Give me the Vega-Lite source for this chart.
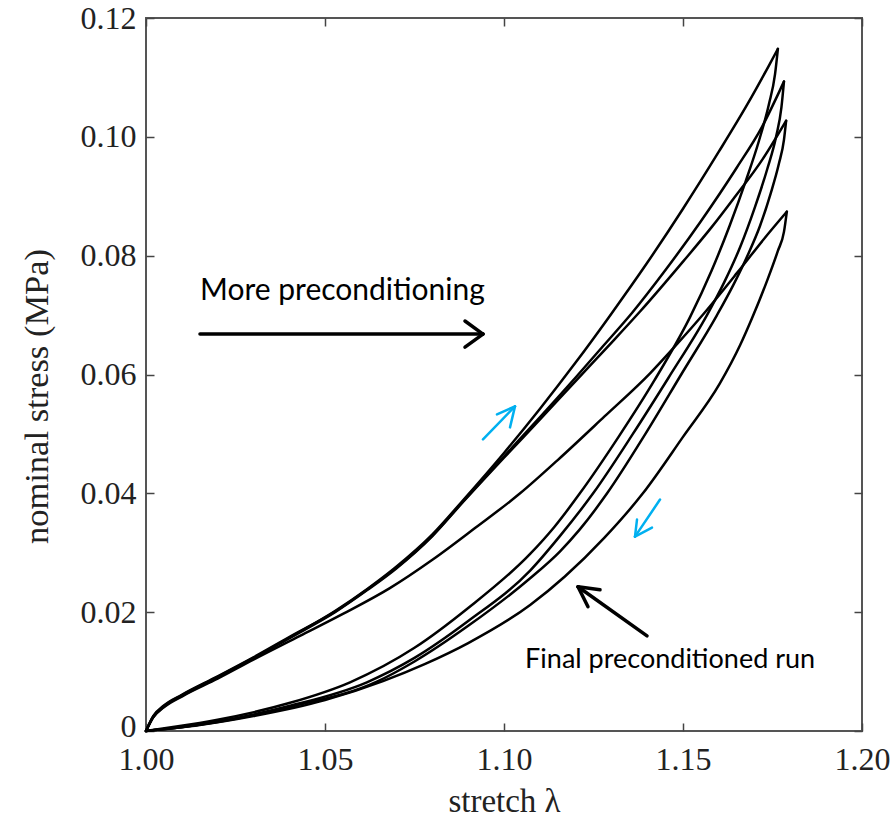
{
  "$schema": "https://vega.github.io/schema/vega-lite/v6.json",
  "width": 716,
  "height": 713,
  "autosize": {"type": "none"},
  "padding": {"left": 146, "top": 18, "right": 31, "bottom": 92},
  "background": "white",
  "config": {
    "view": {"stroke": "#555", "strokeWidth": 2},
    "axis": {
      "domain": false, "grid": false, "tickColor": "#444", "tickSize": -8, "tickWidth": 1.5,
      "labelFont": "Liberation Serif", "labelFontSize": 32, "labelColor": "#222",
      "labelFlush": false, "labelOverlap": false, "labelBound": false,
      "titleFont": "Liberation Serif", "titleFontSize": 33, "titleFontWeight": "normal", "titleColor": "#222"
    }
  },
  "datasets": {
    "curves": [
      {"curve":"A-load","lambda":1.000,"stress":0.0},
      {"curve":"A-load","lambda":1.002,"stress":0.0024},
      {"curve":"A-load","lambda":1.005,"stress":0.0042},
      {"curve":"A-load","lambda":1.010,"stress":0.0060},
      {"curve":"A-load","lambda":1.020,"stress":0.0091},
      {"curve":"A-load","lambda":1.030,"stress":0.0123},
      {"curve":"A-load","lambda":1.040,"stress":0.0157},
      {"curve":"A-load","lambda":1.0528,"stress":0.0202},
      {"curve":"A-load","lambda":1.062,"stress":0.0240},
      {"curve":"A-load","lambda":1.070,"stress":0.0277},
      {"curve":"A-load","lambda":1.080,"stress":0.0331},
      {"curve":"A-load","lambda":1.0885,"stress":0.0388},
      {"curve":"A-load","lambda":1.100,"stress":0.0468},
      {"curve":"A-load","lambda":1.110,"stress":0.0542},
      {"curve":"A-load","lambda":1.120,"stress":0.0620},
      {"curve":"A-load","lambda":1.1296,"stress":0.0699},
      {"curve":"A-load","lambda":1.140,"stress":0.0788},
      {"curve":"A-load","lambda":1.150,"stress":0.0879},
      {"curve":"A-load","lambda":1.160,"stress":0.0975},
      {"curve":"A-load","lambda":1.168,"stress":0.1055},
      {"curve":"A-load","lambda":1.174,"stress":0.1120},
      {"curve":"A-load","lambda":1.1765,"stress":0.1148},

      {"curve":"B-load","lambda":1.000,"stress":0.0},
      {"curve":"B-load","lambda":1.002,"stress":0.0025},
      {"curve":"B-load","lambda":1.005,"stress":0.0043},
      {"curve":"B-load","lambda":1.010,"stress":0.0061},
      {"curve":"B-load","lambda":1.020,"stress":0.0092},
      {"curve":"B-load","lambda":1.030,"stress":0.0124},
      {"curve":"B-load","lambda":1.040,"stress":0.0158},
      {"curve":"B-load","lambda":1.0528,"stress":0.0201},
      {"curve":"B-load","lambda":1.062,"stress":0.0239},
      {"curve":"B-load","lambda":1.070,"stress":0.0275},
      {"curve":"B-load","lambda":1.080,"stress":0.0329},
      {"curve":"B-load","lambda":1.0885,"stress":0.0386},
      {"curve":"B-load","lambda":1.100,"stress":0.0462},
      {"curve":"B-load","lambda":1.110,"stress":0.0528},
      {"curve":"B-load","lambda":1.120,"stress":0.0595},
      {"curve":"B-load","lambda":1.128,"stress":0.0650},
      {"curve":"B-load","lambda":1.1358,"stress":0.0704},
      {"curve":"B-load","lambda":1.145,"stress":0.0775},
      {"curve":"B-load","lambda":1.155,"stress":0.0858},
      {"curve":"B-load","lambda":1.165,"stress":0.0948},
      {"curve":"B-load","lambda":1.172,"stress":0.1016},
      {"curve":"B-load","lambda":1.1782,"stress":0.1093},

      {"curve":"C-load","lambda":1.000,"stress":0.0},
      {"curve":"C-load","lambda":1.002,"stress":0.0023},
      {"curve":"C-load","lambda":1.005,"stress":0.0041},
      {"curve":"C-load","lambda":1.010,"stress":0.0059},
      {"curve":"C-load","lambda":1.020,"stress":0.0090},
      {"curve":"C-load","lambda":1.030,"stress":0.0122},
      {"curve":"C-load","lambda":1.040,"stress":0.0156},
      {"curve":"C-load","lambda":1.0528,"stress":0.0200},
      {"curve":"C-load","lambda":1.062,"stress":0.0238},
      {"curve":"C-load","lambda":1.070,"stress":0.0274},
      {"curve":"C-load","lambda":1.080,"stress":0.0328},
      {"curve":"C-load","lambda":1.0885,"stress":0.0385},
      {"curve":"C-load","lambda":1.100,"stress":0.0460},
      {"curve":"C-load","lambda":1.110,"stress":0.0524},
      {"curve":"C-load","lambda":1.120,"stress":0.0589},
      {"curve":"C-load","lambda":1.129,"stress":0.0647},
      {"curve":"C-load","lambda":1.138,"stress":0.0706},
      {"curve":"C-load","lambda":1.150,"stress":0.0790},
      {"curve":"C-load","lambda":1.158,"stress":0.0848},
      {"curve":"C-load","lambda":1.164,"stress":0.0895},
      {"curve":"C-load","lambda":1.1723,"stress":0.0963},
      {"curve":"C-load","lambda":1.1788,"stress":0.1027},

      {"curve":"D-load","lambda":1.000,"stress":0.0},
      {"curve":"D-load","lambda":1.002,"stress":0.0023},
      {"curve":"D-load","lambda":1.005,"stress":0.0040},
      {"curve":"D-load","lambda":1.010,"stress":0.0058},
      {"curve":"D-load","lambda":1.020,"stress":0.0088},
      {"curve":"D-load","lambda":1.030,"stress":0.0120},
      {"curve":"D-load","lambda":1.043,"stress":0.0160},
      {"curve":"D-load","lambda":1.055,"stress":0.0197},
      {"curve":"D-load","lambda":1.068,"stress":0.0240},
      {"curve":"D-load","lambda":1.0802,"stress":0.0289},
      {"curve":"D-load","lambda":1.092,"stress":0.0342},
      {"curve":"D-load","lambda":1.1045,"stress":0.0400},
      {"curve":"D-load","lambda":1.115,"stress":0.0456},
      {"curve":"D-load","lambda":1.128,"stress":0.0529},
      {"curve":"D-load","lambda":1.1408,"stress":0.0602},
      {"curve":"D-load","lambda":1.148,"stress":0.0649},
      {"curve":"D-load","lambda":1.1556,"stress":0.0701},
      {"curve":"D-load","lambda":1.1651,"stress":0.0771},
      {"curve":"D-load","lambda":1.173,"stress":0.0831},
      {"curve":"D-load","lambda":1.179,"stress":0.0874},

      {"curve":"A-unload","lambda":1.1765,"stress":0.1148},
      {"curve":"A-unload","lambda":1.1757,"stress":0.1105},
      {"curve":"A-unload","lambda":1.1740,"stress":0.1055},
      {"curve":"A-unload","lambda":1.1712,"stress":0.0993},
      {"curve":"A-unload","lambda":1.1675,"stress":0.0925},
      {"curve":"A-unload","lambda":1.1630,"stress":0.0850},
      {"curve":"A-unload","lambda":1.1580,"stress":0.0775},
      {"curve":"A-unload","lambda":1.1520,"stress":0.0697},
      {"curve":"A-unload","lambda":1.1420,"stress":0.0590},
      {"curve":"A-unload","lambda":1.1320,"stress":0.0495},
      {"curve":"A-unload","lambda":1.1212,"stress":0.0400},
      {"curve":"A-unload","lambda":1.1140,"stress":0.0343},
      {"curve":"A-unload","lambda":1.1073,"stress":0.0298},
      {"curve":"A-unload","lambda":1.0900,"stress":0.0207},
      {"curve":"A-unload","lambda":1.0750,"stress":0.0140},
      {"curve":"A-unload","lambda":1.0570,"stress":0.0082},
      {"curve":"A-unload","lambda":1.0400,"stress":0.0047},
      {"curve":"A-unload","lambda":1.0200,"stress":0.0019},
      {"curve":"A-unload","lambda":1.0080,"stress":0.0007},
      {"curve":"A-unload","lambda":1.0000,"stress":0.0},

      {"curve":"B-unload","lambda":1.1782,"stress":0.1093},
      {"curve":"B-unload","lambda":1.1775,"stress":0.1050},
      {"curve":"B-unload","lambda":1.1760,"stress":0.1000},
      {"curve":"B-unload","lambda":1.1735,"stress":0.0945},
      {"curve":"B-unload","lambda":1.1700,"stress":0.0880},
      {"curve":"B-unload","lambda":1.1660,"stress":0.0815},
      {"curve":"B-unload","lambda":1.1615,"stress":0.0755},
      {"curve":"B-unload","lambda":1.1567,"stress":0.0700},
      {"curve":"B-unload","lambda":1.1460,"stress":0.0595},
      {"curve":"B-unload","lambda":1.1360,"stress":0.0500},
      {"curve":"B-unload","lambda":1.1249,"stress":0.0400},
      {"curve":"B-unload","lambda":1.1156,"stress":0.0328},
      {"curve":"B-unload","lambda":1.1073,"stress":0.0270},
      {"curve":"B-unload","lambda":1.0900,"stress":0.0185},
      {"curve":"B-unload","lambda":1.0750,"stress":0.0123},
      {"curve":"B-unload","lambda":1.0617,"stress":0.0082},
      {"curve":"B-unload","lambda":1.0400,"stress":0.0042},
      {"curve":"B-unload","lambda":1.0200,"stress":0.0016},
      {"curve":"B-unload","lambda":1.0080,"stress":0.0005},
      {"curve":"B-unload","lambda":1.0000,"stress":0.0},

      {"curve":"C-unload","lambda":1.1788,"stress":0.1027},
      {"curve":"C-unload","lambda":1.1782,"stress":0.0995},
      {"curve":"C-unload","lambda":1.1768,"stress":0.0955},
      {"curve":"C-unload","lambda":1.1745,"stress":0.0905},
      {"curve":"C-unload","lambda":1.1715,"stress":0.0850},
      {"curve":"C-unload","lambda":1.1680,"stress":0.0800},
      {"curve":"C-unload","lambda":1.1640,"stress":0.0750},
      {"curve":"C-unload","lambda":1.1595,"stress":0.0700},
      {"curve":"C-unload","lambda":1.1495,"stress":0.0600},
      {"curve":"C-unload","lambda":1.1395,"stress":0.0500},
      {"curve":"C-unload","lambda":1.1288,"stress":0.0400},
      {"curve":"C-unload","lambda":1.1210,"stress":0.0338},
      {"curve":"C-unload","lambda":1.1156,"stress":0.0302},
      {"curve":"C-unload","lambda":1.1073,"stress":0.0257},
      {"curve":"C-unload","lambda":1.0900,"stress":0.0177},
      {"curve":"C-unload","lambda":1.0750,"stress":0.0117},
      {"curve":"C-unload","lambda":1.0645,"stress":0.0083},
      {"curve":"C-unload","lambda":1.0400,"stress":0.0040},
      {"curve":"C-unload","lambda":1.0200,"stress":0.0015},
      {"curve":"C-unload","lambda":1.0080,"stress":0.0005},
      {"curve":"C-unload","lambda":1.0000,"stress":0.0},

      {"curve":"D-unload","lambda":1.1790,"stress":0.0874},
      {"curve":"D-unload","lambda":1.1782,"stress":0.0840},
      {"curve":"D-unload","lambda":1.1765,"stress":0.0808},
      {"curve":"D-unload","lambda":1.1735,"stress":0.0758},
      {"curve":"D-unload","lambda":1.1693,"stress":0.0695},
      {"curve":"D-unload","lambda":1.1660,"stress":0.0650},
      {"curve":"D-unload","lambda":1.1603,"stress":0.0585},
      {"curve":"D-unload","lambda":1.1500,"stress":0.0495},
      {"curve":"D-unload","lambda":1.1388,"stress":0.0400},
      {"curve":"D-unload","lambda":1.1280,"stress":0.0325},
      {"curve":"D-unload","lambda":1.1170,"stress":0.0260},
      {"curve":"D-unload","lambda":1.1073,"stress":0.0212},
      {"curve":"D-unload","lambda":1.0900,"stress":0.0148},
      {"curve":"D-unload","lambda":1.0780,"stress":0.0113},
      {"curve":"D-unload","lambda":1.0662,"stress":0.0084},
      {"curve":"D-unload","lambda":1.0500,"stress":0.0052},
      {"curve":"D-unload","lambda":1.0300,"stress":0.0025},
      {"curve":"D-unload","lambda":1.0150,"stress":0.0010},
      {"curve":"D-unload","lambda":1.0000,"stress":0.0}
    ],
    "blackArrows": [
      {"lambda":1.01508,"stress":0.0668,"lambda2":1.09413,"stress2":0.0668},
      {"lambda":1.09413,"stress":0.0668,"lambda2":1.0891,"stress2":0.0690},
      {"lambda":1.09413,"stress":0.0668,"lambda2":1.0891,"stress2":0.0646},
      {"lambda":1.13994,"stress":0.0160,"lambda2":1.12067,"stress2":0.02428},
      {"lambda":1.12067,"stress":0.02428,"lambda2":1.12682,"stress2":0.02378},
      {"lambda":1.12067,"stress":0.02428,"lambda2":1.12346,"stress2":0.02091}
    ],
    "blueArrows": [
      {"lambda":1.09413,"stress":0.04907,"lambda2":1.10307,"stress2":0.05464},
      {"lambda":1.10307,"stress":0.05464,"lambda2":1.09804,"stress2":0.05329},
      {"lambda":1.10307,"stress":0.05464,"lambda2":1.10168,"stress2":0.05110},
      {"lambda":1.14358,"stress":0.03895,"lambda2":1.13659,"stress2":0.03271},
      {"lambda":1.13659,"stress":0.03271,"lambda2":1.13715,"stress2":0.03558},
      {"lambda":1.13659,"stress":0.03271,"lambda2":1.14134,"stress2":0.03423}
    ],
    "labelMore": [
      {"lambda":1.0151,"stress":0.0740,"text":"More preconditioning"}
    ],
    "labelFinal": [
      {"lambda":1.1059,"stress":0.0120,"text":"Final preconditioned run"}
    ]
  },
  "layer": [
    {
      "data": {"name": "curves"},
      "mark": {"type": "line", "color": "black", "strokeWidth": 2.5, "strokeJoin": "round", "strokeCap": "round", "interpolate": "monotone"},
      "encoding": {
        "x": {"field": "lambda", "type": "quantitative", "scale": {"domain": [1.0, 1.2], "nice": false, "zero": false},
              "axis": {"title": "stretch λ", "orient": "bottom", "values": [1.0, 1.05, 1.1, 1.15, 1.2], "format": ".2f", "labelPadding": 21, "titlePadding": 10}},
        "y": {"field": "stress", "type": "quantitative", "scale": {"domain": [0, 0.12], "nice": false, "zero": true},
              "axis": {"title": "nominal stress (MPa)", "orient": "left", "values": [0, 0.02, 0.04, 0.06, 0.08, 0.1, 0.12], "labelExpr": "datum.value == 0 ? '0' : format(datum.value, '.2f')", "labelPadding": 18, "titlePadding": 26, "titleFontSize": 34.5, "titleY": 378,
                       "labelOffset": {"condition": {"test": "datum.value === 0", "value": -5}, "value": 0}}},
        "detail": {"field": "curve", "type": "nominal"}
      }
    },
    {
      "data": {"name": "blackArrows"},
      "mark": {"type": "rule", "color": "black", "strokeWidth": 3.5, "strokeCap": "round"},
      "encoding": {
        "x": {"field": "lambda", "type": "quantitative", "axis": {"orient": "top", "labels": false, "title": null, "values": [1.0, 1.05, 1.1, 1.15, 1.2]}},
        "y": {"field": "stress", "type": "quantitative", "axis": {"orient": "right", "labels": false, "title": null, "values": [0, 0.02, 0.04, 0.06, 0.08, 0.1, 0.12]}},
        "x2": {"field": "lambda2"},
        "y2": {"field": "stress2"}
      }
    },
    {
      "data": {"name": "blueArrows"},
      "mark": {"type": "rule", "color": "#00B0F0", "strokeWidth": 2.5, "strokeCap": "round"},
      "encoding": {
        "x": {"field": "lambda", "type": "quantitative", "axis": null},
        "y": {"field": "stress", "type": "quantitative", "axis": null},
        "x2": {"field": "lambda2"},
        "y2": {"field": "stress2"}
      }
    },
    {
      "data": {"name": "labelMore"},
      "mark": {"type": "text", "font": "Lato", "fontSize": 30, "align": "left", "baseline": "middle", "color": "black"},
      "encoding": {
        "x": {"field": "lambda", "type": "quantitative", "axis": null},
        "y": {"field": "stress", "type": "quantitative", "axis": null},
        "text": {"field": "text", "type": "nominal"}
      }
    },
    {
      "data": {"name": "labelFinal"},
      "mark": {"type": "text", "font": "Lato", "fontSize": 27, "align": "left", "baseline": "middle", "color": "black"},
      "encoding": {
        "x": {"field": "lambda", "type": "quantitative", "axis": null},
        "y": {"field": "stress", "type": "quantitative", "axis": null},
        "text": {"field": "text", "type": "nominal"}
      }
    }
  ],
  "resolve": {"axis": {"x": "independent", "y": "independent"}}
}
